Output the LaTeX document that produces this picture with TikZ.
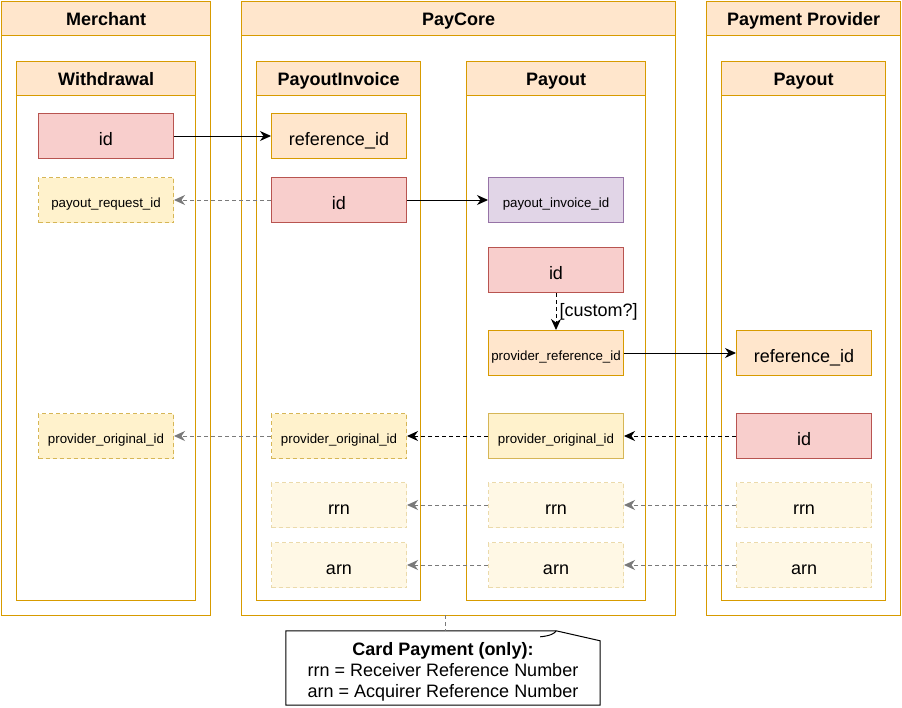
\documentclass[tikz,border=0pt]{standalone}
\usepackage{fontspec}
\setmainfont{Liberation Sans}
\usetikzlibrary{arrows.meta,positioning}
\definecolor{hdrfill}{HTML}{FFE6CC}
\definecolor{hdrline}{HTML}{D79B00}
\definecolor{redfill}{HTML}{F8CECC}
\definecolor{redline}{HTML}{B85450}
\definecolor{purfill}{HTML}{E1D5E7}
\definecolor{purline}{HTML}{9673A6}
\definecolor{yelfill}{HTML}{FFF2CC}
\definecolor{yelline}{HTML}{D6B656}
\definecolor{palefill}{HTML}{FFF8E5}
\definecolor{paleline}{HTML}{EBDAAB}
\definecolor{grayarrow}{HTML}{7A7A7A}
\tikzset{
  lane/.style={draw=hdrline, line width=1.3pt, anchor=north west, inner sep=0pt, fill=white},
  lanehdr/.style={draw=hdrline, fill=hdrfill, line width=1.3pt, anchor=north west, inner sep=0pt,
     minimum height=34pt, font=\fontsize{18}{20}\selectfont\bfseries, text height=13pt, text depth=0pt},
  field/.style={anchor=north west, inner sep=0pt, minimum width=135pt, minimum height=45pt,
     line width=1pt, font=\fontsize{18}{20}\selectfont, text height=18pt, text depth=0pt},
  small/.style={font=\fontsize{13.3}{15}\selectfont, text height=14pt, text depth=0pt},
  redbox/.style={field, draw=redline, fill=redfill},
  orgbox/.style={field, draw=hdrline, fill=hdrfill},
  purbox/.style={field, draw=purline, fill=purfill},
  yelbox/.style={field, draw=yelline, fill=yelfill},
  yeldash/.style={field, draw=yelline, fill=yelfill, dash pattern=on 4pt off 3pt},
  palebox/.style={field, draw=paleline, fill=palefill, dash pattern=on 4pt off 3pt},
  tip/.style={-{Stealth[length=11pt,width=10pt,inset=3.5pt]}},
  solidarrow/.style={tip, draw=black, line width=1pt},
  blackdash/.style={tip, draw=black, line width=1pt, dash pattern=on 4pt off 3pt},
  graydash/.style={tip, draw=grayarrow, line width=1pt, dash pattern=on 4pt off 3pt},
}
\begin{document}
\begin{tikzpicture}[x=1pt,y=-1pt]
\useasboundingbox (0,0) rectangle (902,707);
% outer lanes
\node[lane, minimum width=209pt, minimum height=614pt] (merchant) at (1,1) {};
\node[lanehdr, minimum width=209pt] (merchanthdr) at (1,1) {Merchant};
\node[lane, minimum width=434pt, minimum height=614pt] (paycore) at (241,1) {};
\node[lanehdr, minimum width=434pt] (paycorehdr) at (241,1) {PayCore};
\node[lane, minimum width=194pt, minimum height=614pt] (provider) at (706,1) {};
\node[lanehdr, minimum width=194pt] (providerhdr) at (706,1) {Payment Provider};
% inner lanes
\node[lane, minimum width=179pt, minimum height=539pt] (withdrawal) at (16,61) {};
\node[lanehdr, minimum width=179pt] (withdrawalhdr) at (16,61) {Withdrawal};
\node[lane, minimum width=164pt, minimum height=539pt] (invoice) at (256,61) {};
\node[lanehdr, minimum width=164pt] (invoicehdr) at (256,61) {PayoutInvoice};
\node[lane, minimum width=179pt, minimum height=539pt] (payout) at (466,61) {};
\node[lanehdr, minimum width=179pt] (payouthdr) at (466,61) {Payout};
\node[lane, minimum width=164pt, minimum height=539pt] (ppayout) at (721,61) {};
\node[lanehdr, minimum width=164pt] (ppayouthdr) at (721,61) {Payout};
% Withdrawal fields
\node[redbox] (wid) at (38,113) {id};
\node[yeldash, small] (wreq) at (38,177) {payout\_request\_id};
\node[yeldash, small] (worig) at (38,413) {provider\_original\_id};
% PayoutInvoice fields
\node[orgbox] (iref) at (271,113) {reference\_id};
\node[redbox] (iid) at (271,177) {id};
\node[yeldash, small] (iorig) at (271,413) {provider\_original\_id};
\node[palebox] (irrn) at (271,482) {rrn};
\node[palebox] (iarn) at (271,542) {arn};
% Payout (PayCore) fields
\node[purbox, small] (pinv) at (488,177) {payout\_invoice\_id};
\node[redbox] (pid) at (488,247) {id};
\node[orgbox, small] (pref) at (488,330) {provider\_reference\_id};
\node[yelbox, small] (porig) at (488,413) {provider\_original\_id};
\node[palebox] (prrn) at (488,482) {rrn};
\node[palebox] (parn) at (488,542) {arn};
% Provider Payout fields
\node[orgbox] (qref) at (736,330) {reference\_id};
\node[redbox] (qid) at (736,413) {id};
\node[palebox] (qrrn) at (736,482) {rrn};
\node[palebox] (qarn) at (736,542) {arn};
% connectors
\draw[solidarrow] (wid.east) -- (iref.west);
\draw[solidarrow] (iid.east) -- (pinv.west);
\draw[graydash] (iid.west) -- (wreq.east);
\draw[blackdash] (pid.south) -- node[right, inner sep=3pt, font=\fontsize{18}{20}\selectfont] {[custom?]} (pref.north);
\draw[solidarrow] (pref.east) -- (qref.west);
\draw[blackdash] (qid.west) -- (porig.east);
\draw[blackdash] (porig.west) -- (iorig.east);
\draw[graydash] (iorig.west) -- (worig.east);
\draw[graydash] (prrn.west) -- (irrn.east);
\draw[graydash] (parn.west) -- (iarn.east);
\draw[graydash] (qrrn.west) -- (prrn.east);
\draw[graydash] (qarn.west) -- (parn.east);
% callout
\node[minimum width=314pt, minimum height=74pt, inner sep=0pt] (callout) at (443,668) {};
\draw[line width=1pt] (callout.north west) -- ([xshift=-44pt]callout.north east)
   -- ([yshift=-10pt]callout.north east) -- (callout.south east) -- (callout.south west) -- cycle;
\draw[line width=1pt] ([xshift=-60pt,yshift=-6pt]callout.north east)
   .. controls ([xshift=-50pt,yshift=-5pt]callout.north east) and ([xshift=-46pt,yshift=-3pt]callout.north east)
   .. ([xshift=-44pt]callout.north east);
\node[inner sep=0pt, align=center, font=\fontsize{18}{21}\selectfont] (calltext) at (443,672)
      {\textbf{Card Payment (only):}\\rrn = Receiver Reference Number\\arn = Acquirer Reference Number};
\coordinate (pcb) at (445,615);
\draw[draw=grayarrow, line width=1pt, dash pattern=on 4pt off 3pt] (pcb) -- (pcb |- callout.north);
\end{tikzpicture}
\end{document}
